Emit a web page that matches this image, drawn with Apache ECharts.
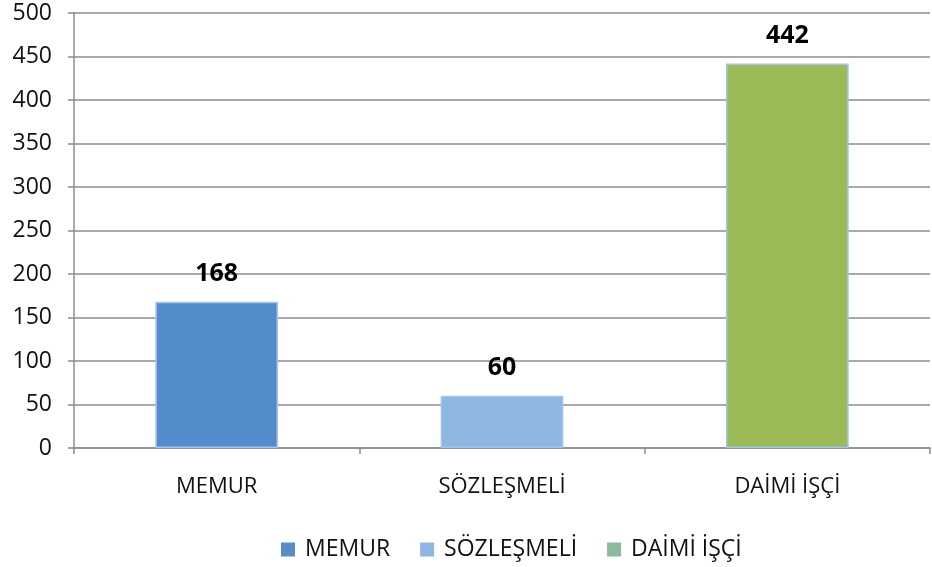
<!DOCTYPE html>
<html><head><meta charset="utf-8">
<script src="https://cdn.jsdelivr.net/npm/echarts@6/dist/echarts.min.js"></script>
<style>html,body{margin:0;padding:0;background:#fff}#c{width:932px;height:567px}</style>
</head><body><div id="c"></div>
<script>
const categories = ['MEMUR', 'SÖZLEŞMELİ', 'DAİMİ İŞÇİ'];
const values = [168, 60, 442];
const barColors = ['#548ccb', '#8db6e0', '#9bbb59'];
const legendColors = ['#5b8cc6', '#8db6e0', '#8fb99c'];
const yTicks = {min: 0, max: 500, interval: 50};

const font = 'Open Sans';
const series = categories.map((name, i) => ({
  name: name,
  type: 'bar',
  stack: 'all',
  barWidth: '43%',
  data: categories.map((c, j) => j === i ? values[i] : null),
  itemStyle: {color: barColors[i], borderColor: '#a3c4ea', borderWidth: 1.5},
  label: {show: true, position: 'top', distance: 15, color: '#000', fontFamily: font, fontWeight: 'bold', fontSize: 25}
}));

const chart = echarts.init(document.getElementById('c'));
chart.setOption({
  animation: false,
  grid: {left: 74, right: 2, top: 13, bottom: 119, containLabel: false},
  legend: {
    bottom: 1, left: 276, itemWidth: 14, itemHeight: 14, itemGap: 30,
    icon: 'rect',
    textStyle: {fontFamily: font, fontSize: 23, color: '#111', padding: [0, 0, 0, 5]},
    data: categories.map((n, i) => ({name: n, itemStyle: {color: legendColors[i], borderWidth: 0}}))
  },
  xAxis: {
    type: 'category', data: categories,
    axisLine: {lineStyle: {color: '#8c8c8c', width: 1.5}},
    axisTick: {show: true, length: 6, lineStyle: {color: '#8c8c8c', width: 1.5}},
    axisLabel: {fontFamily: font, fontSize: 22, color: '#111', margin: 28}
  },
  yAxis: {
    type: 'value', min: yTicks.min, max: yTicks.max, interval: yTicks.interval,
    axisLine: {show: true, lineStyle: {color: '#8c8c8c', width: 1.5}},
    axisTick: {show: true, length: 6, lineStyle: {color: '#8c8c8c', width: 1.5}},
    splitLine: {lineStyle: {color: '#8c8c8c', width: 1.5}},
    axisLabel: {fontFamily: font, fontSize: 23, color: '#111', margin: 22}
  },
  series: series
});
</script></body></html>
